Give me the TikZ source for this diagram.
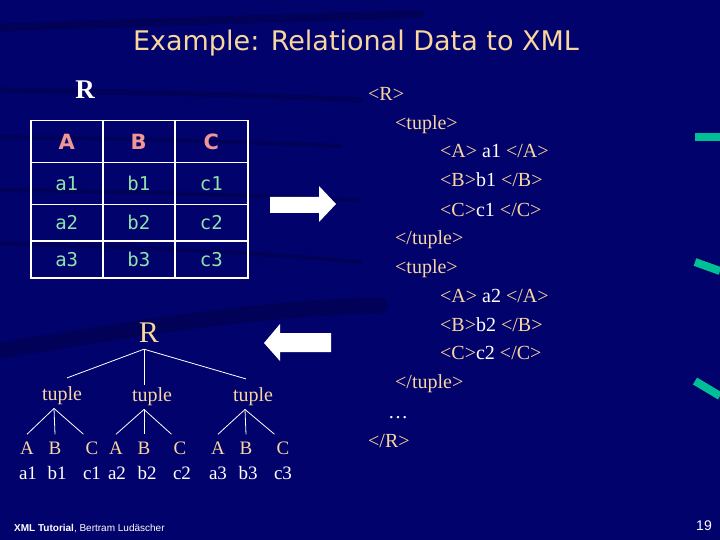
\documentclass[tikz,border=0pt]{standalone}
\usepackage{fontspec}
\usepackage{xcolor}
\usepackage{tikz}
\usetikzlibrary{positioning}
\setmainfont{Liberation Serif}
\newfontfamily\slidesans{DejaVu Sans}
\newfontfamily\slidemono{DejaVu Sans Mono}
\newfontfamily\footsans{Liberation Sans}
\definecolor{slidenavy}{RGB}{2, 2, 108}
\definecolor{slidepeach}{RGB}{248, 214, 158}
\definecolor{headpink}{RGB}{240, 150, 150}
\definecolor{cellgreen}{RGB}{140, 228, 172}
\definecolor{slideteal}{RGB}{0, 190, 150}
\newcommand{\xtag}[1]{\textcolor{slidepeach}{#1}}

\begin{document}
\begin{tikzpicture}[x=1pt, y=-1pt,
  hdr/.style={
    draw=white, line width=1.5pt, anchor=north west,
    minimum width=72pt, minimum height=42pt, inner sep=0pt,
    text=headpink, font=\slidesans\bfseries\fontsize{21}{25}\selectfont
  },
  cell/.style={
    draw=white, line width=1.5pt, anchor=north west,
    minimum width=72pt, inner sep=0pt,
    text=cellgreen, font=\slidemono\fontsize{19}{23}\selectfont
  },
  xml/.style={anchor=base west, inner sep=0pt, text=white,
              font=\fontsize{20}{24}\selectfont},
  tnode/.style={anchor=base, inner sep=2pt, text=slidepeach,
                font=\fontsize{20}{24}\selectfont},
  leaf/.style={anchor=base, inner sep=2pt, text=white,
               font=\fontsize{19}{23}\selectfont},
  edge/.style={draw=white, line width=0.8pt},
  swoosh/.style={draw=black, opacity=0.18, line cap=round},
  edgemark/.style={draw=slideteal, line width=8pt}
]
  % --- Background ---
  \fill[slidenavy] (0,0) rectangle (720,540);
  \useasboundingbox (0,0) rectangle (720,540);
  \draw[swoosh, line width=8pt]  (-10,28) .. controls (150,22) and (300,18) .. (420,14);
  \draw[swoosh, line width=5pt]  (-10,90) .. controls (150,92) and (280,96) .. (360,100);
  \draw[swoosh, line width=4pt]  (-10,137) .. controls (120,138) and (250,142) .. (340,146);
  \draw[swoosh, line width=4pt]  (-10,190) .. controls (120,191) and (250,195) .. (360,200);
  \draw[swoosh, line width=4pt]  (-10,243) .. controls (120,246) and (250,252) .. (360,262);
  \draw[swoosh, line width=16pt] (-10,352) .. controls (100,335) and (230,310) .. (380,305);
  \draw[edgemark] (695,137) -- (720,137);
  \draw[edgemark] (695,262) -- (720,271);
  \draw[edgemark] (695,381) -- (720,396);

  % --- Title ---
  \node[anchor=base, inner sep=0pt, text=slidepeach,
        font=\slidesans\fontsize{27}{31}\selectfont] (title) at (356,51)
        {Example: Relational Data to XML};

  % --- Table R ---
  \node[anchor=base, inner sep=0pt, text=white,
        font=\bfseries\fontsize{27}{30}\selectfont] (relname) at (85,99) {R};

  \node[hdr] (hA) at (30,120) {A};
  \node[hdr] (hB) at (102,120) {B};
  \node[hdr, minimum width=73pt] (hC) at (174,120) {C};

  \node[cell, minimum height=42pt] (a1) at (30,162) {a1};
  \node[cell, minimum height=42pt] (b1) at (102,162) {b1};
  \node[cell, minimum height=42pt, minimum width=73pt] (c1) at (174,162) {c1};

  \node[cell, minimum height=36pt] (a2) at (30,204) {a2};
  \node[cell, minimum height=36pt] (b2) at (102,204) {b2};
  \node[cell, minimum height=36pt, minimum width=73pt] (c2) at (174,204) {c2};

  \node[cell, minimum height=37pt] (a3) at (30,240) {a3};
  \node[cell, minimum height=37pt] (b3) at (102,240) {b3};
  \node[cell, minimum height=37pt, minimum width=73pt] (c3) at (174,240) {c3};

  % --- Block arrows ---
  \fill[white] (270,197) -- (319,197) -- (319,186) -- (336,204)
               -- (319,222) -- (319,213) -- (270,213) -- cycle;
  \fill[white] (331,333) -- (280,333) -- (280,324) -- (264,343)
               -- (280,361) -- (280,352) -- (331,352) -- cycle;

  % --- Tree ---
  \node[tnode, font=\fontsize{30}{34}\selectfont] (root) at (149,342) {R};
  \node[tnode] (t1) at (62,400)  {tuple};
  \node[tnode] (t2) at (152,401) {tuple};
  \node[tnode] (t3) at (253,401) {tuple};

  \node[leaf, text=slidepeach] (A1) at (27,454)  {A};
  \node[leaf, text=slidepeach] (B1) at (55,454)  {B};
  \node[leaf, text=slidepeach] (C1) at (92,454)  {C};
  \node[leaf, text=slidepeach] (A2) at (116,454) {A};
  \node[leaf, text=slidepeach] (B2) at (144,454) {B};
  \node[leaf, text=slidepeach] (C2) at (180,454) {C};
  \node[leaf, text=slidepeach] (A3) at (218,454) {A};
  \node[leaf, text=slidepeach] (B3) at (246,454) {B};
  \node[leaf, text=slidepeach] (C3) at (283,454) {C};

  \node[leaf] (v1) at (28,479)  {a1};
  \node[leaf] (v2) at (57,479)  {b1};
  \node[leaf] (v3) at (92,479)  {c1};
  \node[leaf] (v4) at (117,479) {a2};
  \node[leaf] (v5) at (147,479) {b2};
  \node[leaf] (v6) at (182,479) {c2};
  \node[leaf] (v7) at (218,479) {a3};
  \node[leaf] (v8) at (248,479) {b3};
  \node[leaf] (v9) at (283,479) {c3};

  % root to tuples
  \draw[edge] ([xshift=-5pt,yshift=-5pt]root.south) -- ([xshift=5pt,yshift=6pt]t1.north);
  \draw[edge] ([xshift=-5pt,yshift=-5pt]root.south) -- ([xshift=-8pt]t2.north);
  \draw[edge] ([xshift=-5pt,yshift=-5pt]root.south) -- ([xshift=-7pt,yshift=6pt]t3.north);

  % tuples to attributes
  \draw[edge] ([xshift=-8pt,yshift=-2pt]t1.south) -- ([yshift=5pt]A1.north);
  \draw[edge] ([xshift=-8pt,yshift=-2pt]t1.south) -- ([yshift=5pt]B1.north);
  \draw[edge] ([xshift=-8pt,yshift=-2pt]t1.south) -- ([yshift=5pt]C1.north west);
  \draw[edge] ([xshift=-8pt,yshift=-2pt]t2.south) -- ([yshift=5pt]A2.north);
  \draw[edge] ([xshift=-8pt,yshift=-2pt]t2.south) -- ([yshift=5pt]B2.north);
  \draw[edge] ([xshift=-8pt,yshift=-2pt]t2.south) -- ([yshift=5pt]C2.north west);
  \draw[edge] ([xshift=-8pt,yshift=-2pt]t3.south) -- ([yshift=5pt]A3.north);
  \draw[edge] ([xshift=-8pt,yshift=-2pt]t3.south) -- ([yshift=5pt]B3.north);
  \draw[edge] ([xshift=-8pt,yshift=-2pt]t3.south) -- ([yshift=5pt]C3.north west);

  % --- XML text ---
  \node[xml] (x0)  at (368,101) {\xtag{<R>}};
  \node[xml] (x1)  at (395,130) {\xtag{<tuple>}};
  \node[xml] (x2)  at (440,158) {\xtag{<A>} a1 \xtag{</A>}};
  \node[xml] (x3)  at (440,187) {\xtag{<B>}b1 \xtag{</B>}};
  \node[xml] (x4)  at (440,216) {\xtag{<C>}c1 \xtag{</C>}};
  \node[xml] (x5)  at (395,244) {\xtag{</tuple>}};
  \node[xml] (x6)  at (395,273) {\xtag{<tuple>}};
  \node[xml] (x7)  at (440,302) {\xtag{<A>} a2 \xtag{</A>}};
  \node[xml] (x8)  at (440,331) {\xtag{<B>}b2 \xtag{</B>}};
  \node[xml] (x9)  at (440,359) {\xtag{<C>}c2 \xtag{</C>}};
  \node[xml] (x10) at (395,388) {\xtag{</tuple>}};
  \node[xml] (x11) at (388,418) {…};
  \node[xml] (x12) at (368,447) {\xtag{</R>}};

  % --- Footer ---
  \node[anchor=base west, inner sep=0pt, text=white,
        font=\footsans\fontsize{10}{12}\selectfont] (foot) at (14,531)
        {\textbf{XML Tutorial}, Bertram Ludäscher};
  \node[anchor=base east, inner sep=0pt, text=white,
        font=\footsans\fontsize{14}{16}\selectfont] (page) at (712,530) {19};
\end{tikzpicture}
\end{document}
